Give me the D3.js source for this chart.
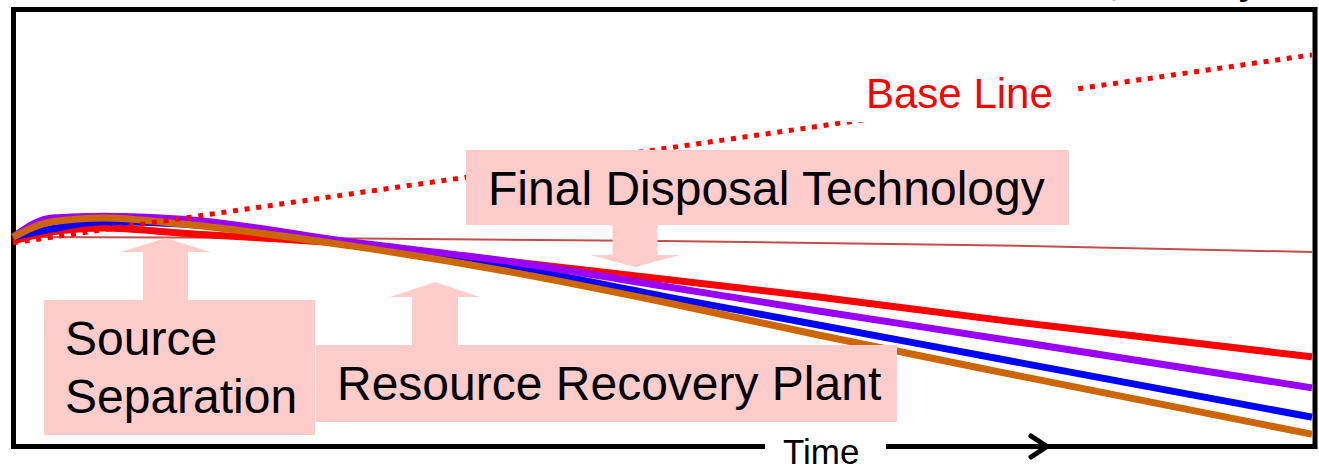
<!DOCTYPE html>
<html>
<head>
<meta charset="utf-8">
<script src="https://cdn.jsdelivr.net/npm/d3@7/dist/d3.min.js"></script>
<style>
  html, body { margin: 0; padding: 0; background: #fff; }
  svg { display: block; font-family: "Liberation Sans", Arial, sans-serif; }
</style>
</head>
<body>
<svg id="chart" width="1319" height="468"></svg>
<script>
// ---- data (time index 0..100, quantity index 0..100) ----
const time = [0, 3, 7, 13, 26, 38, 50, 62, 76, 100];
const redValues    = [46.9, 49.0, 49.9, 48.7, 46.2, 42.3, 38.2, 34.1, 28.8, 20.4];
const purpleValues = [47.8, 52.2, 52.6, 51.9, 46.7, 42.3, 36.6, 30.9, 24.5, 13.3];
const blueValues   = [47.8, 49.7, 51.3, 50.8, 46.0, 41.2, 34.3, 27.7, 19.9, 6.6];
const orangeValues = [47.8, 51.3, 52.2, 50.8, 45.8, 40.0, 33.0, 25.4, 16.9, 2.7];
const thinTime   = [0, 22, 50, 76, 100];
const thinValues = [47.8, 47.6, 46.9, 45.9, 44.4];
const baseTime   = [0, 100];
const baseValues = [46.5, 89.5];

const labels = {
  base: "Base Line",
  final: "Final Disposal Technology",
  source: ["Source", "Separation"],
  recovery: "Resource Recovery Plant",
  axis: "Time",
  top: "Quantity"
};

// ---- layout ----
const svg = d3.select("#chart");
const frame = { left: 13.5, top: 9.5, right: 1315, bottom: 446.5 };
const x = d3.scaleLinear().domain([0, 100]).range([13, 1312]);
const y = d3.scaleLinear().domain([0, 100]).range([446, 9]);

// frame
svg.append("rect")
  .attr("x", frame.left).attr("y", frame.top)
  .attr("width", frame.right - frame.left).attr("height", frame.bottom - frame.top)
  .attr("fill", "#fff").attr("stroke", "#000").attr("stroke-width", 5);

// clipped title text at the very top (only descender visible)
svg.append("text").attr("x", 1262).attr("y", -8).attr("text-anchor", "end")
  .attr("font-size", 47).attr("fill", "#000").text(labels.top);

const line = d3.line().curve(d3.curveMonotoneX);
function series(t, v) { return t.map((d, i) => [x(d), y(v[i])]); }

// thin reference line
svg.append("path").attr("d", line(series(thinTime, thinValues)))
  .attr("fill", "none").attr("stroke", "#C0504D").attr("stroke-width", 2);

const thick = [
  { v: redValues, c: "#FF0000" },
  { v: blueValues, c: "#0000FF" },
  { v: purpleValues, c: "#9900FF" },
  { v: orangeValues, c: "#CC6600" }
];
thick.forEach(s => {
  svg.append("path").attr("d", line(series(time, s.v)))
    .attr("fill", "none").attr("stroke", s.c).attr("stroke-width", 7);
});

// dotted base line
svg.append("path").attr("d", d3.line()(series(baseTime, baseValues)))
  .attr("fill", "none").attr("stroke", "#FF0000").attr("stroke-width", 5)
  .attr("stroke-dasharray", "5,6.7");

// base line label with white background
svg.append("rect").attr("x", 842).attr("y", 66).attr("width", 230).attr("height", 56).attr("fill", "#fff");
svg.append("text").attr("x", 866).attr("y", 108).attr("font-size", 42).attr("fill", "#FF0000").text(labels.base);

// annotation boxes and arrows
const pink = "#FFCCCC";
function arrow(cx, from, to, shaftW, headW, headL) {
  const dir = to > from ? 1 : -1;
  const hb = to - dir * headL;
  return `M${cx - shaftW / 2},${from} L${cx - shaftW / 2},${hb} L${cx - headW / 2},${hb} L${cx},${to} L${cx + headW / 2},${hb} L${cx + shaftW / 2},${hb} L${cx + shaftW / 2},${from} Z`;
}
// arrows
svg.append("path").attr("d", arrow(165.5, 300, 238, 45, 90, 14)).attr("fill", pink);
svg.append("path").attr("d", arrow(435, 346, 282, 46, 90, 15)).attr("fill", pink);
svg.append("path").attr("d", arrow(635, 224, 267, 45, 90, 12)).attr("fill", pink);

// boxes
svg.append("rect").attr("x", 466).attr("y", 150).attr("width", 603).attr("height", 75).attr("fill", pink);
svg.append("rect").attr("x", 44).attr("y", 300).attr("width", 271).attr("height", 135).attr("fill", pink);
svg.append("rect").attr("x", 316).attr("y", 345).attr("width", 581).attr("height", 77).attr("fill", pink);

svg.append("text").attr("x", 488).attr("y", 205).attr("font-size", 48).attr("fill", "#000").text(labels.final);
svg.append("text").attr("x", 65).attr("y", 355).attr("font-size", 48).attr("fill", "#000").text(labels.source[0]);
svg.append("text").attr("x", 65).attr("y", 413).attr("font-size", 48).attr("fill", "#000").text(labels.source[1]);
svg.append("text").attr("x", 337).attr("y", 400).attr("font-size", 48).attr("fill", "#000").text(labels.recovery);

// time axis label and arrow head on the bottom frame line
svg.append("rect").attr("x", 765).attr("y", 440).attr("width", 121).attr("height", 14).attr("fill", "#fff");
svg.append("text").attr("x", 783).attr("y", 464).attr("font-size", 35).attr("fill", "#000").text(labels.axis);
svg.append("path").attr("d", "M1031,436 L1047,446.5 L1031,457")
  .attr("fill", "none").attr("stroke", "#000").attr("stroke-width", 5)
  .attr("stroke-linecap", "round").attr("stroke-linejoin", "miter");
</script>
</body>
</html>
